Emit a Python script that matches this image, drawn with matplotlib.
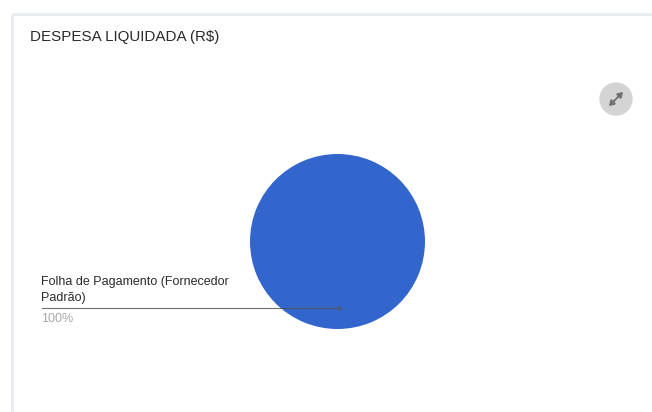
import matplotlib
matplotlib.use('Agg')
import matplotlib.pyplot as plt
from matplotlib.patches import Rectangle, Circle, FancyBboxPatch

labels = ['Folha de Pagamento (Fornecedor\nPadrão)']
values = [100]
pct_labels = ['100%']
pie_colors = ['#3366cc']

W, H = 652, 412
plt.rcParams['font.family'] = ['Liberation Sans', 'DejaVu Sans']

fig = plt.figure(figsize=(W / 100, H / 100), dpi=100)
bg = fig.add_axes([0, 0, 1, 1])
bg.set_xlim(0, W)
bg.set_ylim(H, 0)
bg.axis('off')

# ============ Card ============
bg.add_patch(Rectangle((0, 0), W, H, color='#ffffff', zorder=0))
bg.add_patch(FancyBboxPatch((12.5, 14.5), 660, 420, boxstyle='round,pad=0,rounding_size=2',
                            fc='white', ec='#e9ecf0', lw=2, zorder=1))

bg.text(30, 37, 'DESPESA LIQUIDADA (R$)', fontsize=10.9, color='#2a2a2a',
        va='center', ha='left', zorder=3)

# ============ Expand button ============
bg.add_patch(Circle((616, 99), 16, color='#d4d4d4', zorder=2))
bg.annotate('', xy=(623, 92), xytext=(616.5, 98.5), zorder=3,
            arrowprops=dict(arrowstyle='-|>,head_width=0.18,head_length=0.28', color='#707070',
                            lw=1.4, shrinkA=0, shrinkB=0))
bg.annotate('', xy=(609, 106), xytext=(615.5, 99.5), zorder=3,
            arrowprops=dict(arrowstyle='-|>,head_width=0.18,head_length=0.28', color='#707070',
                            lw=1.4, shrinkA=0, shrinkB=0))

# ============ Pie ============
cx, cy, r = 337.5, 241.5, 87.5
pie_ax = fig.add_axes([(cx - r) / W, 1 - (cy + r) / H, 2 * r / W, 2 * r / H])
pie_ax.pie(values, colors=pie_colors, radius=1, startangle=90)
pie_ax.set_xlim(-1, 1)
pie_ax.set_ylim(-1, 1)
pie_ax.patch.set_alpha(0)

# ============ Leader label ============
overlay = fig.add_axes([0, 0, 1, 1])
overlay.set_xlim(0, W)
overlay.set_ylim(H, 0)
overlay.axis('off')
overlay.patch.set_alpha(0)
overlay.plot([42, 338], [307.5, 307.5], color='#555555', lw=0.8, alpha=0.85)
overlay.plot([339], [307.5], 'o', color='#555555', ms=3, alpha=0.75, mew=0)
overlay.text(41, 281.5, labels[0].split('\n')[0], fontsize=9.0, color='#2a2a2a', va='center', ha='left')
overlay.text(41, 297.5, labels[0].split('\n')[1], fontsize=9.0, color='#2a2a2a', va='center', ha='left')
overlay.text(41, 318.5, pct_labels[0], fontsize=9.0, color='#a8a8a8', va='center', ha='left')

fig.savefig('out.png', dpi=100)
